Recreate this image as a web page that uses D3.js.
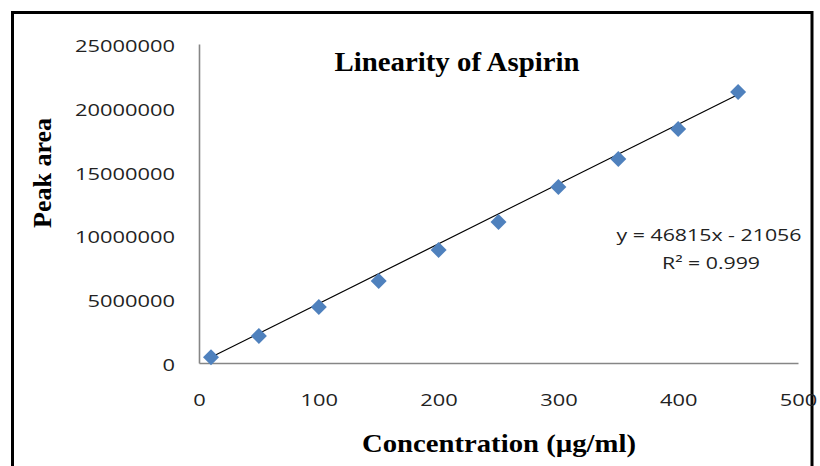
<!DOCTYPE html>
<html>
<head>
<meta charset="utf-8">
<script src="https://cdn.jsdelivr.net/npm/d3@7"></script>
<style>
  html, body { margin: 0; padding: 0; background: #fff; }
  svg { display: block; }
</style>
</head>
<body>
<svg id="chart" width="820" height="466"></svg>
<script>
// ---- data ----
const concentrations = [10, 50, 100, 150, 200, 250, 300, 350, 400, 450];
const peakAreas = [450000, 2120000, 4390000, 6430000, 8860000, 11050000, 13790000, 15990000, 18340000, 21240000];
const xTicks = [0, 100, 200, 300, 400, 500];
const yTicks = [0, 5000000, 10000000, 15000000, 20000000, 25000000];
const trendSlope = 46815;
const trendIntercept = -21056;
const titleText = "Linearity of Aspirin";
const xTitle = "Concentration (\u00b5g/ml)";
const yTitle = "Peak area";
const eqLines = ["y = 46815x - 21056", "R\u00b2 = 0.999"];

// ---- layout ----
const svg = d3.select("#chart");
const x = d3.scaleLinear().domain([0, 500]).range([199, 798]);
const y = d3.scaleLinear().domain([0, 25000000]).range([363, 44]);

// outer frame
svg.append("path")
  .attr("d", "M12.5,470 L12.5,12.5 L812,12.5 L812,470")
  .attr("fill", "none").attr("stroke", "#000").attr("stroke-width", 3);

// axes
const tickFont = "'Open Sans', 'Liberation Sans', sans-serif";
const yAxis = svg.append("g").attr("transform", `translate(${x(0)},0)`)
  .call(d3.axisLeft(y).tickValues(yTicks).tickSize(0).tickPadding(24).tickFormat(d3.format("d")));
const xAxis = svg.append("g").attr("transform", `translate(0,${y(0)})`)
  .call(d3.axisBottom(x).tickValues(xTicks).tickSize(0).tickPadding(0).tickFormat(d3.format("d")));

[yAxis, xAxis].forEach(g => {
  g.select(".domain").attr("stroke", "#868686").attr("stroke-width", 1.6);
  g.selectAll("text")
    .attr("font-family", tickFont)
    .attr("font-size", 16.5)
    .attr("fill", "#222")
    .attr("lengthAdjust", "spacingAndGlyphs")
    .attr("textLength", function() { return this.textContent.length * 12.5; });
});
yAxis.selectAll("text").attr("dy", null).attr("dominant-baseline", "central").attr("y", 1);
xAxis.selectAll("text").attr("dy", null).attr("dominant-baseline", "central").attr("y", 36);

// trendline
svg.append("line")
  .attr("x1", x(concentrations[0])).attr("y1", y(trendSlope * concentrations[0] + trendIntercept))
  .attr("x2", x(concentrations[concentrations.length - 1]))
  .attr("y2", y(trendSlope * concentrations[concentrations.length - 1] + trendIntercept))
  .attr("stroke", "#000").attr("stroke-width", 1.2);

// markers (diamonds)
const sym = d3.symbol().type(d3.symbolSquare).size(128);
svg.append("g").selectAll("path")
  .data(concentrations.map((c, i) => [c, peakAreas[i]]))
  .join("path")
  .attr("d", sym)
  .attr("transform", d => `translate(${x(d[0])},${y(d[1])}) rotate(45)`)
  .attr("fill", "#4F81BD");

// title
svg.append("text")
  .attr("x", 457).attr("y", 71)
  .attr("text-anchor", "middle")
  .attr("font-family", "'Liberation Serif', 'DejaVu Serif', serif")
  .attr("font-weight", "bold").attr("font-size", 27)
  .attr("textLength", 245).attr("lengthAdjust", "spacingAndGlyphs")
  .text(titleText);

// y-axis title
svg.append("text")
  .attr("transform", "translate(51,173) rotate(-90)")
  .attr("text-anchor", "middle")
  .attr("font-family", "'Liberation Serif', 'DejaVu Serif', serif")
  .attr("font-weight", "bold").attr("font-size", 26)
  .attr("textLength", 110).attr("lengthAdjust", "spacingAndGlyphs")
  .text(yTitle);

// x-axis title
svg.append("text")
  .attr("x", 499).attr("y", 452)
  .attr("text-anchor", "middle")
  .attr("font-family", "'Liberation Serif', 'DejaVu Serif', serif")
  .attr("font-weight", "bold").attr("font-size", 26)
  .attr("textLength", 274).attr("lengthAdjust", "spacingAndGlyphs")
  .text(xTitle);

// equation
const eq = svg.append("g")
  .attr("font-family", tickFont).attr("font-size", 16.5).attr("fill", "#222");
eq.append("text").attr("x", 709).attr("y", 234).attr("dominant-baseline", "central")
  .attr("text-anchor", "middle")
  .attr("textLength", 185).attr("lengthAdjust", "spacingAndGlyphs")
  .text(eqLines[0]);
eq.append("text").attr("x", 711).attr("y", 262).attr("dominant-baseline", "central")
  .attr("text-anchor", "middle")
  .attr("textLength", 98).attr("lengthAdjust", "spacingAndGlyphs")
  .text(eqLines[1]);
</script>
</body>
</html>
